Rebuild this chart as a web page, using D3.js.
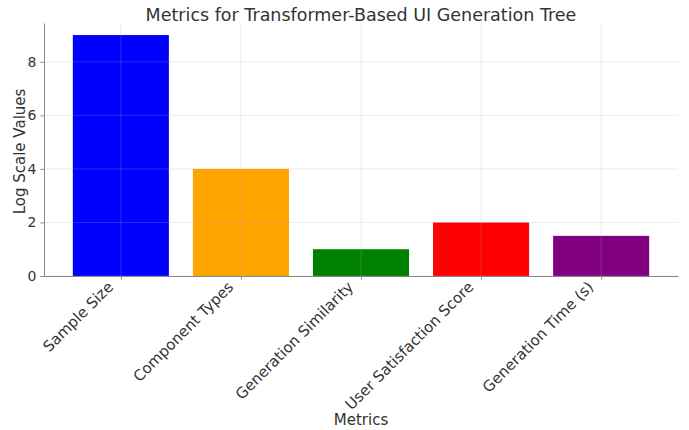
<!DOCTYPE html>
<html>
<head>
<meta charset="utf-8">
<script src="https://cdn.jsdelivr.net/npm/d3@7"></script>
<style>
  body { margin: 0; background: #fff; }
  text { font-family: "DejaVu Sans", sans-serif; fill: #333; }
</style>
</head>
<body>
<div id="chart"></div>
<script>
const metrics = ["Sample Size", "Component Types", "Generation Similarity", "User Satisfaction Score", "Generation Time (s)"];
const values = [9, 4, 1, 2, 1.5];
const colors = ["#0000ff", "#ffa500", "#008000", "#ff0000", "#800080"];
const yTicks = [0, 2, 4, 6, 8];

const width = 689, height = 430;
const margin = { left: 44, right: 11, top: 23, bottom: 154 };

const svg = d3.select("#chart").append("svg")
  .attr("width", width)
  .attr("height", height);

// linear x mimicking matplotlib: bars 0.8 wide, 5% margins
const x = d3.scaleLinear()
  .domain([-0.64, metrics.length - 1 + 0.64])
  .range([margin.left, width - margin.right]);

const y = d3.scaleLinear()
  .domain([0, 9.45])
  .range([height - margin.bottom, margin.top]);

const barW = x(0.8) - x(0);

svg.append("g")
  .selectAll("rect")
  .data(values)
  .enter().append("rect")
  .attr("x", (d, i) => x(i) - barW / 2)
  .attr("y", d => y(d))
  .attr("width", barW)
  .attr("height", d => y(0) - y(d))
  .attr("fill", (d, i) => colors[i]);

// grid
const grid = svg.append("g")
  .attr("stroke", "#b0b0b0")
  .attr("stroke-opacity", 0.3)
  .attr("stroke-width", 0.8);

grid.selectAll("line.h")
  .data(yTicks)
  .enter().append("line")
  .attr("x1", x.range()[0]).attr("x2", x.range()[1])
  .attr("y1", d => y(d)).attr("y2", d => y(d));

grid.selectAll("line.v")
  .data(metrics)
  .enter().append("line")
  .attr("x1", (d, i) => x(i)).attr("x2", (d, i) => x(i))
  .attr("y1", y.range()[0]).attr("y2", y.range()[1]);

// y axis
const yAxis = svg.append("g")
  .attr("transform", `translate(${margin.left},0)`)
  .call(d3.axisLeft(y).tickValues(yTicks).tickSize(3.5).tickPadding(4).tickSizeOuter(0));
yAxis.selectAll("text").style("font-size", "14px").attr("fill", "#333");

// x axis, labels rotated 45 and right-aligned on the tick
const xAxis = svg.append("g")
  .attr("transform", `translate(0,${y(0)})`)
  .call(d3.axisBottom(x).tickValues(d3.range(metrics.length)).tickFormat(i => metrics[i])
    .tickSize(3.5).tickSizeOuter(0));
xAxis.selectAll("text")
  .style("font-size", "15px")
  .attr("fill", "#333")
  .attr("text-anchor", "end")
  .attr("y", 0)
  .attr("dy", "0.93em")
  .attr("transform", "translate(-17,2) rotate(-45)");

svg.selectAll(".domain").attr("stroke", "#888");
svg.selectAll(".tick line").attr("stroke", "#888");

// titles
svg.append("text")
  .attr("x", (x.range()[0] + x.range()[1]) / 2)
  .attr("y", 21)
  .attr("text-anchor", "middle")
  .style("font-size", "17.5px")
  .text("Metrics for Transformer-Based UI Generation Tree");

svg.append("text")
  .attr("x", (x.range()[0] + x.range()[1]) / 2)
  .attr("y", 425)
  .attr("text-anchor", "middle")
  .style("font-size", "15px")
  .text("Metrics");

svg.append("text")
  .attr("transform", `translate(25,${(y.range()[0] + y.range()[1]) / 2 + 2}) rotate(-90)`)
  .attr("text-anchor", "middle")
  .style("font-size", "15px")
  .text("Log Scale Values");
</script>
</body>
</html>
